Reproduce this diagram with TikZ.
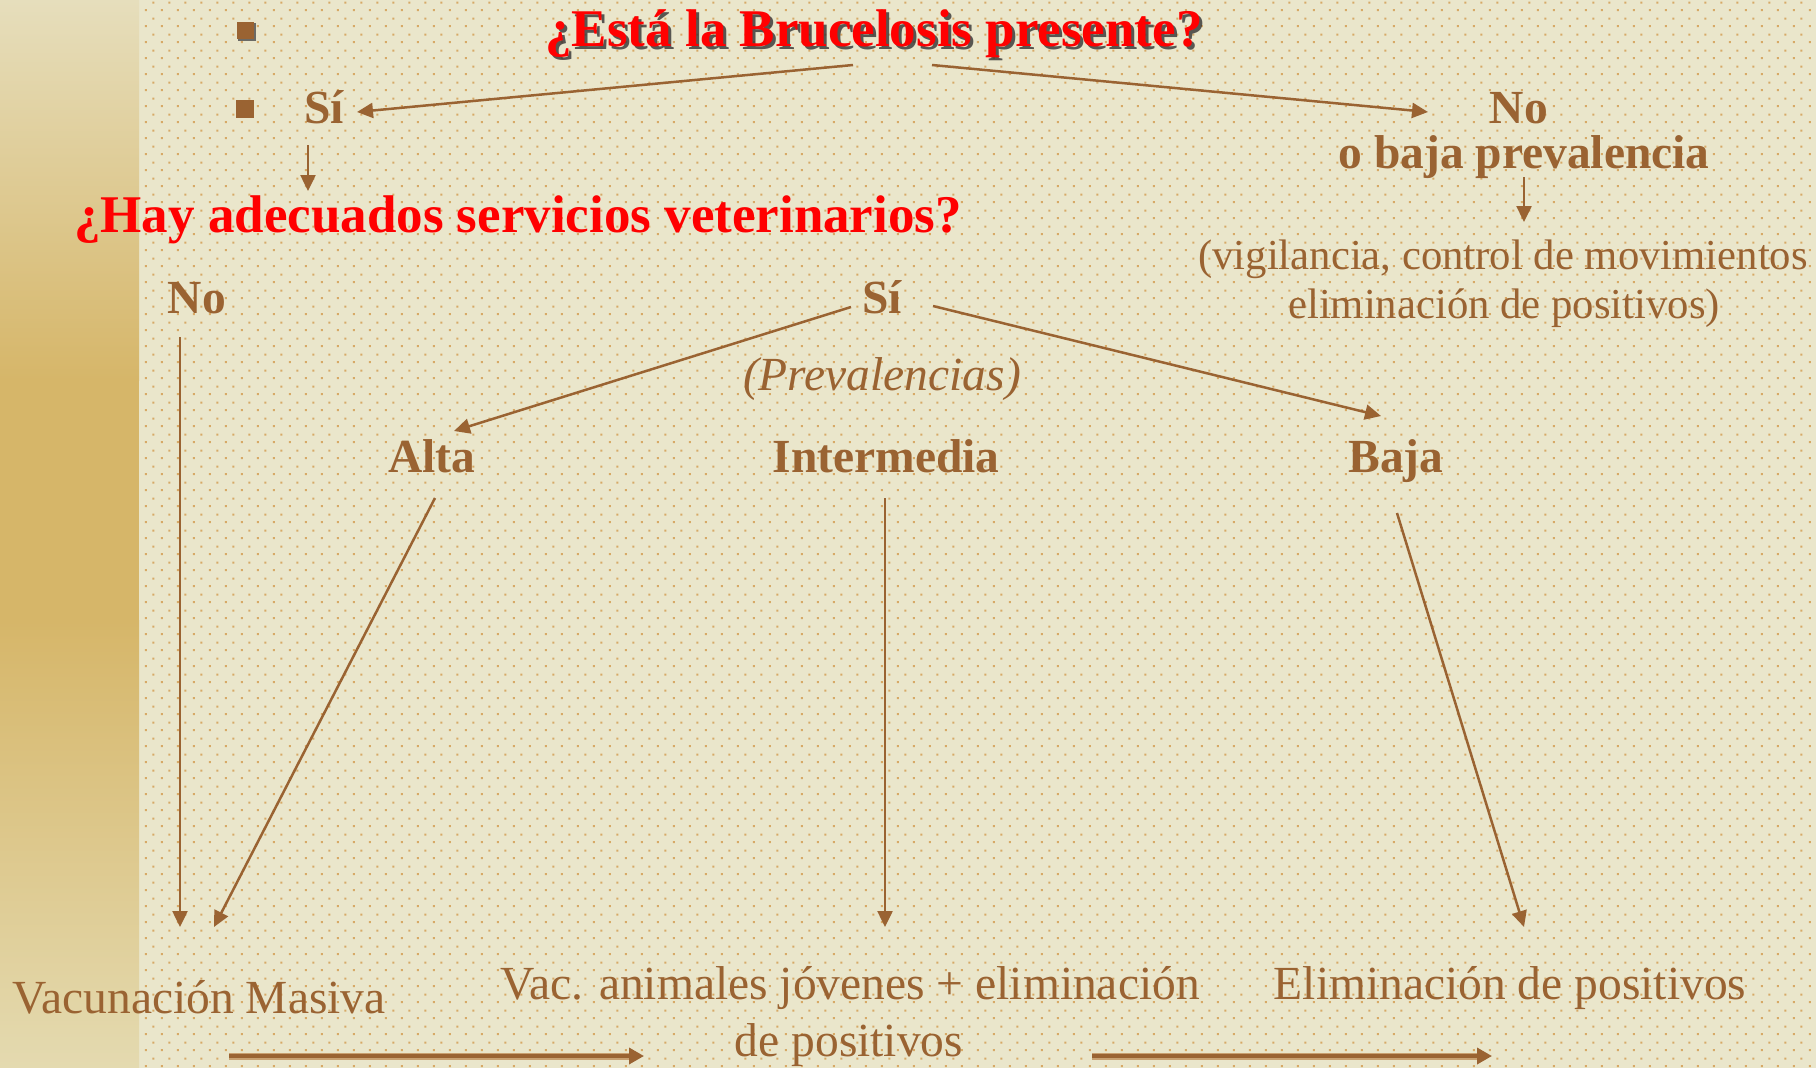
\documentclass[tikz,border=0pt]{standalone}
\usepackage{fontspec}
\setmainfont{Liberation Serif}
\usetikzlibrary{arrows.meta,calc,patterns.meta}
\definecolor{brn}{HTML}{9A6332}
\definecolor{brnlight}{HTML}{C8A070}
\definecolor{bgc}{HTML}{EAE6CB}
\definecolor{dotc}{HTML}{D7A966}
\definecolor{stripT}{HTML}{E6DEBC}
\definecolor{stripM}{HTML}{D6B669}
\definecolor{stripB}{HTML}{E4DAB0}
\definecolor{qred}{HTML}{FF0000}
\tikzdeclarepattern{
  name=bgdots,
  type=uncolored,
  bounding box={(0pt,0pt) and (16pt,16pt)},
  tile size={(16pt,16pt)},
  code={
    \fill (1pt,1pt) rectangle (3pt,3pt);
    \fill (9pt,9pt) rectangle (11pt,11pt);
  }
}
\tikzset{
  bhead/.style={text=brn, font=\bfseries\fontsize{47.5}{57}\selectfont, anchor=base, inner sep=0pt},
  rq/.style={text=qred, font=\bfseries\fontsize{53}{62}\selectfont, anchor=base, inner sep=0pt},
  small/.style={text=brn, font=\fontsize{42.7}{50}\selectfont, anchor=base, inner sep=0pt},
  bottomtxt/.style={text=brn, font=\fontsize{47.5}{57}\selectfont, anchor=base, inner sep=0pt},
  itl/.style={text=brn, font=\itshape\fontsize{47.5}{57}\selectfont, anchor=base, inner sep=0pt},
  arr/.style={draw=brn, line width=2.5pt, -{Triangle[length=16pt,width=15pt]}},
  thickarr/.style={draw=brn, line width=3.5pt, -{Triangle[length=15pt,width=16pt]}},
  thickshadow/.style={draw=brnlight, line width=7pt},
  bullet/.style={fill=brn, draw=none, minimum size=17pt, inner sep=0pt},
}
\begin{document}
\begin{tikzpicture}[x=1pt,y=-1pt]
\useasboundingbox (0,0) rectangle (1816,1068);
% background
\fill[bgc] (0,0) rectangle (1816,1068);
\fill[pattern=bgdots, pattern color=dotc] (139,0) rectangle (1816,1068);
\shade[top color=stripT, bottom color=stripM] (0,0) rectangle (139,380);
\fill[stripM] (0,379) rectangle (139,621);
\shade[top color=stripM, bottom color=stripB] (0,620) rectangle (139,1068);

% bullets
\fill[black!70, opacity=0.8] (238,23) rectangle (256,41);
\node[bullet] (b1) at (245.5,30.5) {};
\node[bullet, minimum size=18pt] (b2) at (245,108.5) {};

% title with shadow
\node[rq, text=black!80, opacity=0.8] at (877,49) {¿Está la Brucelosis presente?};
\node[rq] (title) at (874,46) {¿Está la Brucelosis presente?};

\node[bhead] (si1) at (324,123) {Sí};
\node[bhead] (no1) at (1519,123) {No};
\node[bhead] (obaja) at (1524,168) {o baja prevalencia};
\node[small] (vig1) at (1503,269) {(vigilancia, control de movimientos};
\node[small] (vig2) at (1504,318) {eliminación de positivos)};

\node[rq] (hay) at (518,232) {¿Hay adecuados servicios veterinarios?};

\node[bhead] (no2) at (197,313) {No};
\node[bhead] (si2) at (882,313) {Sí};
\node[itl] (prev) at (882,390) {(Prevalencias)};

\node[bhead] (alta) at (432,472) {Alta};
\node[bhead] (inter) at (886,472) {Intermedia};
\node[bhead] (baja) at (1396,472) {Baja};

\node[bottomtxt] (vac) at (199,1013) {Vacunación Masiva};
\node[bottomtxt] (vacA) at (850,999) {Vac. animales jóvenes + eliminación};
\node[bottomtxt] (vacB) at (849,1056) {de positivos};
\node[bottomtxt] (elim) at (1510,999) {Eliminación de positivos};

% connectors
\draw[arr] ($(title.base)+(-21,19)$) -- ($(si1.base)+(33,-11)$);
\draw[arr] ($(title.base)+(58,19)$) -- ($(no1.base)+(-91,-11)$);
\draw[arr] ($(si1.base)+(-16,22)$) -- ($(hay.base)+(-210,-41)$);
\draw[arr] ($(obaja.base)+(0,9)$) -- ($(vig1.base)+(21,-47)$);
\draw[arr] ($(si2.base)+(-31,-6)$) -- ($(alta.base)+(22,-41)$);
\draw[arr] ($(si2.base)+(51,-7)$) -- ($(baja.base)+(-15,-56)$);
\draw[arr] ($(no2.base)+(-17,24)$) -- ($(vac.base)+(-19,-86)$);
\draw[arr] ($(alta.base)+(3,26)$) -- ($(vac.base)+(15,-86)$);
\draw[arr] ($(inter.base)+(-1,26)$) -- ($(vacA.base)+(35,-72)$);
\draw[arr] ($(baja.base)+(1,41)$) -- ($(elim.base)+(14,-72)$);

% bottom thick arrows
\draw[thickshadow] ($(vac.base)+(30,43)$) -- ($(vacB.base)+(-215,0)$);
\draw[thickarr] ($(vac.base)+(30,43)$) -- ($(vacB.base)+(-205,0)$);
\draw[thickshadow] ($(vacB.base)+(243,0)$) -- ($(elim.base)+(-28,57)$);
\draw[thickarr] ($(vacB.base)+(243,0)$) -- ($(elim.base)+(-18,57)$);
\end{tikzpicture}
\end{document}
